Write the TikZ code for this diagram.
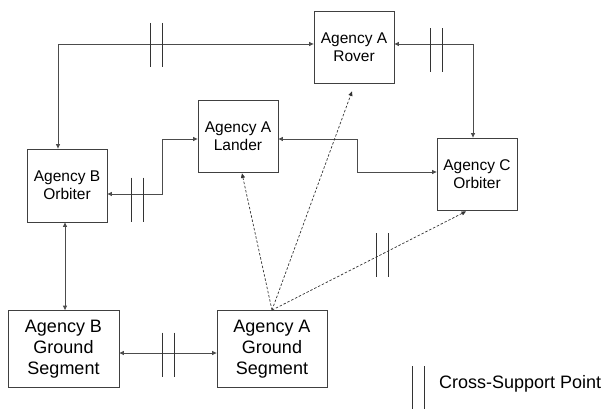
\documentclass[tikz,border=0pt]{standalone}
\usepackage{fontspec}
\setmainfont{Liberation Sans}
\usetikzlibrary{arrows.meta}
\begin{document}
\begin{tikzpicture}[x=1pt,y=-1pt,
  box/.style={draw=black!75,line width=0.8pt,align=center,inner sep=0pt,
    minimum width=80pt,minimum height=72pt,font=\fontsize{15.5}{18}\selectfont},
  gbox/.style={box,minimum width=110pt,minimum height=77pt,font=\fontsize{18}{21}\selectfont},
  link/.style={draw=black!70,line width=0.8pt,{Triangle[length=4.5pt,width=4pt]}-{Triangle[length=4.5pt,width=4pt]}},
  dlink/.style={draw=black!80,line width=0.7pt,dash pattern=on 2.5pt off 1.8pt,-{Triangle[length=4.5pt,width=4pt]}},
  csp/.pic={\draw[black!80,line width=0.8pt] (-6,-22) -- (-6,22) (6,-22) -- (6,22);}
]
\useasboundingbox (0,0) rectangle (607,409);
\node[box] (rover) at (354,47) {Agency A\\Rover};
\node[box] (lander) at (238,136) {Agency A\\Lander};
\node[box,minimum height=73pt] (bor) at (67,185.5) {Agency B\\Orbiter};
\node[box] (corb) at (477,174) {Agency C\\Orbiter};
\node[gbox,minimum width=111pt] (bgs) at (63.5,349) {Agency B\\Ground\\Segment};
\node[gbox] (ags) at (272,349) {Agency A\\Ground\\Segment};

\draw[link] ([yshift=3pt]rover.west) -| ([xshift=-9pt]bor.north);
\draw[link] ([yshift=3pt]rover.east) -| ([xshift=-4pt]corb.north);
\draw[link] ([yshift=-8.5pt]bor.east) -- ++(55,0) |- ([yshift=-3pt]lander.west);
\draw[link] ([yshift=-3pt]lander.east) -- ++(79,0) |- ([yshift=2pt]corb.west);
\draw[link] ([xshift=-2pt]bor.south) -- ([xshift=1.5pt]bgs.north);
\draw[link] ([yshift=-4pt]bgs.east) -- ([yshift=-4pt]ags.west);

\coordinate (src) at (ags.north);
\draw[dlink] (src) -- ([xshift=4pt,yshift=-1pt]lander.south);
\draw[dlink] (src) -- ([xshift=-2pt,yshift=-8pt]rover.south);
\draw[dlink] (src) -- ([xshift=-11pt,yshift=-1pt]corb.south);

\pic at (156,45) {csp};
\pic at (436.5,50.5) {csp};
\pic at (137.5,199.5) {csp};
\pic at (168,354.5) {csp};
\pic at (382.5,255) {csp};
\pic at (418,388) {csp};
\node[anchor=west,inner sep=0pt,font=\fontsize{18}{21}\selectfont] (leg) at (439,384) {Cross-Support Point};
\end{tikzpicture}
\end{document}
